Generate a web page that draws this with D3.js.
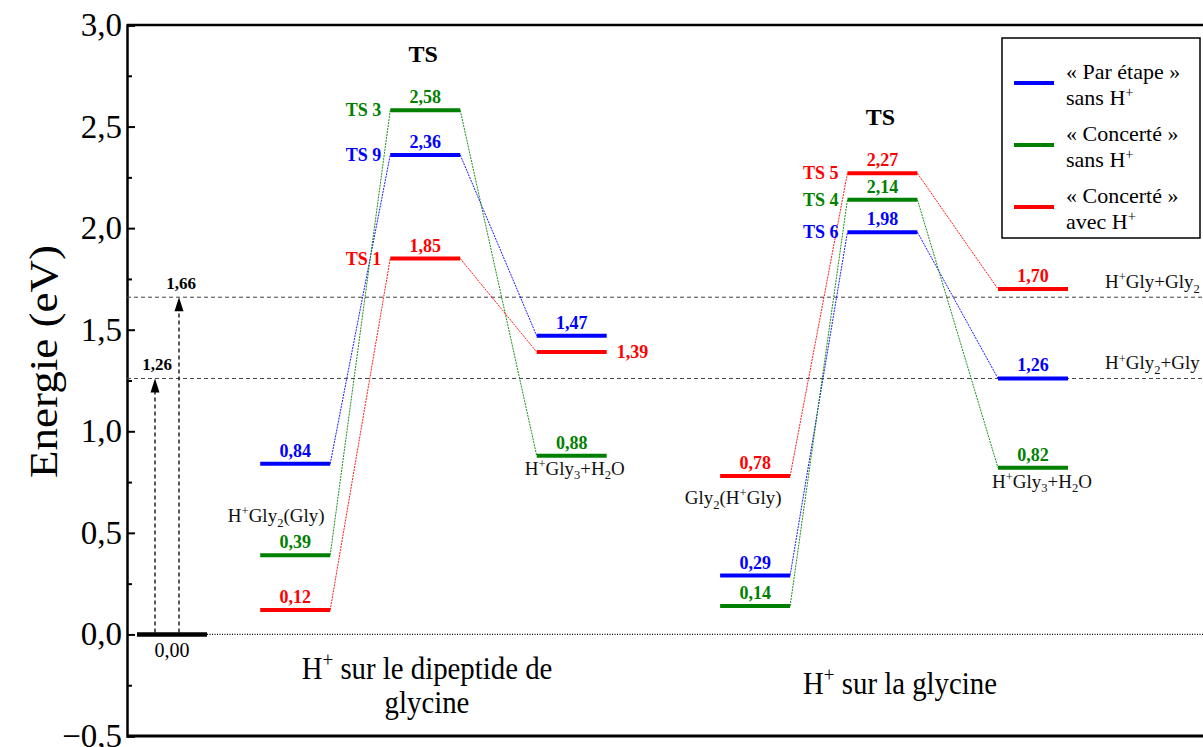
<!DOCTYPE html>
<html>
<head>
<meta charset="utf-8">
<script src="https://cdn.jsdelivr.net/npm/d3@7"></script>
<style>
  body { margin: 0; background: #fff; }
  svg { display: block; }
  text { font-family: "Liberation Serif", "Times New Roman", serif; }
</style>
</head>
<body>
<svg id="chart" width="1203" height="747"></svg>
<script>
// ---- Energies (eV) for each pathway: [reactant complex, transition state, products]
const dipeptideStepwise   = [0.84, 2.36, 1.47];   // « Par étape » sans H+
const dipeptideConcerted  = [0.39, 2.58, 0.88];   // « Concerté » sans H+
const dipeptideConcertedH = [0.12, 1.85, 1.39];   // « Concerté » avec H+
const glycineStepwise     = [0.29, 1.98, 1.26];
const glycineConcerted    = [0.14, 2.14, 0.82];
const glycineConcertedH   = [0.78, 2.27, 1.70];

const dipeptideTSNames = ["TS 9", "TS 3", "TS 1"];
const glycineTSNames   = ["TS 6", "TS 4", "TS 5"];

// reaction-coordinate position of each stage
const groundCoord     = 0;
const dipeptideCoords = [0.9, 1.85, 2.92];
const glycineCoords   = [4.26, 5.19, 6.29];

const groundEnergy = 0.00;
const dissociationEnergies = [1.26, 1.66];
const dissociationNames = ["H^{+}Gly_{2}+Gly", "H^{+}Gly+Gly_{2}"];

const yTicks = [-0.5, 0.0, 0.5, 1.0, 1.5, 2.0, 2.5, 3.0];
const yMinorTicks = [-0.25, 0.25, 0.75, 1.25, 1.75, 2.25, 2.75];

const seriesNames = [
  ["« Par étape »", "sans H^{+}"],
  ["« Concerté »", "sans H^{+}"],
  ["« Concerté »", "avec H^{+}"]
];
const seriesColors = ["#0000ff", "#008000", "#ff0000"];

const categoryNames = [["H^{+} sur le dipeptide de", "glycine"], ["H^{+} sur la glycine"]];

// ---- Layout
const W = 1203, H = 747;
const plot = { left: 127, right: 1203, top: 25, bottom: 736 };
const svg = d3.select("#chart");

const y = d3.scaleLinear().domain([-0.5, 3.0]).range([plot.bottom, plot.top]);
const x = d3.scaleLinear().domain([0, 6.29]).range([172, 1033]);
const halfBar = 35;

const comma = v => d3.format(".2f")(v).replace(".", ",");
const comma1 = v => d3.format(".1f")(v).replace(".", ",");

// text with ^{sup} and _{sub} segments
function rich(sel, s, size) {
  const parts = s.split(/(\^\{[^}]*\}|_\{[^}]*\})/).filter(p => p.length);
  let shift = 0;
  parts.forEach(p => {
    let t = p, target = 0, small = false;
    if (p.startsWith("^{")) { t = p.slice(2, -1); target = -0.36 * size; small = true; }
    else if (p.startsWith("_{")) { t = p.slice(2, -1); target = 0.24 * size; small = true; }
    sel.append("tspan")
      .attr("dy", target - shift)
      .attr("font-size", small ? size * 0.66 : size)
      .text(t);
    shift = target;
  });
  return sel;
}

// ---- Axis frame
const frame = svg.append("g");
frame.append("line").attr("x1", plot.left).attr("x2", plot.right)
  .attr("y1", plot.top).attr("y2", plot.top).attr("stroke", "#000").attr("stroke-width", 2.5);
frame.append("line").attr("x1", plot.left).attr("x2", plot.right)
  .attr("y1", plot.bottom).attr("y2", plot.bottom).attr("stroke", "#000").attr("stroke-width", 3);

const yAxis = d3.axisLeft(y).tickValues(yTicks).tickSize(-8).tickPadding(5).tickFormat(comma1);
const gy = svg.append("g").attr("transform", `translate(${plot.left},0)`).call(yAxis);
gy.select(".domain").attr("stroke-width", 2.5);
gy.selectAll(".tick line").attr("stroke-width", 2);
gy.selectAll(".tick text").attr("font-size", 33).attr("fill", "#000")
  .attr("font-family", "Liberation Serif");

const yMinor = d3.axisLeft(y).tickValues(yMinorTicks).tickSize(-5).tickFormat("");
const gyMinor = svg.append("g").attr("transform", `translate(${plot.left},0)`).call(yMinor);
gyMinor.select(".domain").remove();
gyMinor.selectAll(".tick line").attr("stroke-width", 2);

svg.append("text")
  .attr("transform", `translate(57,${(245 + 478) / 2}) rotate(-90)`)
  .attr("text-anchor", "middle")
  .attr("font-size", 40)
  .attr("textLength", 233).attr("lengthAdjust", "spacingAndGlyphs")
  .text("Energie (eV)");

// ---- Reference levels
dissociationEnergies.forEach((e, i) => {
  svg.append("line")
    .attr("x1", plot.left).attr("x2", plot.right)
    .attr("y1", y(e)).attr("y2", y(e))
    .attr("stroke", "#444").attr("stroke-width", 1).attr("stroke-dasharray", "4,3");
  rich(svg.append("text").attr("x", 1105).attr("y", y(e) - 9).attr("font-size", 19).attr("fill", "#111"),
    dissociationNames[i], 19);
});

// zero line
svg.append("line")
  .attr("x1", x(groundCoord) + halfBar).attr("x2", plot.right)
  .attr("y1", y(groundEnergy)).attr("y2", y(groundEnergy))
  .attr("stroke", "#000").attr("stroke-width", 1.2).attr("stroke-dasharray", "1,1.5");

// ground state
svg.append("line")
  .attr("x1", x(groundCoord) - halfBar).attr("x2", x(groundCoord) + halfBar)
  .attr("y1", y(groundEnergy)).attr("y2", y(groundEnergy))
  .attr("stroke", "#000").attr("stroke-width", 4.5);
svg.append("text").attr("x", x(groundCoord)).attr("y", y(groundEnergy) + 23)
  .attr("text-anchor", "middle").attr("font-size", 20).text(comma(groundEnergy));

// dissociation arrows from the ground state
const arrowOffsets = [-17, 7];
dissociationEnergies.forEach((e, i) => {
  const ax = x(groundCoord) + arrowOffsets[i];
  svg.append("line")
    .attr("x1", ax).attr("x2", ax)
    .attr("y1", y(groundEnergy) - 2).attr("y2", y(e) + 12)
    .attr("stroke", "#000").attr("stroke-width", 1.3).attr("stroke-dasharray", "4,3");
  svg.append("path")
    .attr("d", `M${ax},${y(e)} L${ax - 4.5},${y(e) + 14} L${ax + 4.5},${y(e) + 14} Z`)
    .attr("fill", "#000");
  svg.append("text").attr("x", ax + 2).attr("y", y(e) - 8)
    .attr("text-anchor", "middle").attr("font-size", 17).attr("font-weight", "bold")
    .text(comma(e));
});

// ---- Pathways
const clusters = [
  { coords: dipeptideCoords, series: [dipeptideStepwise, dipeptideConcerted, dipeptideConcertedH], ts: dipeptideTSNames, cluster: 0 },
  { coords: glycineCoords,   series: [glycineStepwise, glycineConcerted, glycineConcertedH],       ts: glycineTSNames,   cluster: 1 }
];

clusters.forEach(c => {
  const g = svg.append("g");
  c.series.forEach((vals, si) => {
    const col = seriesColors[si];
    // connectors
    for (let k = 0; k < vals.length - 1; k++) {
      g.append("line")
        .attr("x1", x(c.coords[k]) + halfBar).attr("y1", y(vals[k]))
        .attr("x2", x(c.coords[k + 1]) - halfBar).attr("y2", y(vals[k + 1]))
        .attr("stroke", col).attr("stroke-width", 0.9).attr("stroke-dasharray", "2,1");
    }
  });
  c.series.forEach((vals, si) => {
    const col = seriesColors[si];
    vals.forEach((v, k) => {
      g.append("line")
        .attr("x1", x(c.coords[k]) - halfBar).attr("x2", x(c.coords[k]) + halfBar)
        .attr("y1", y(v)).attr("y2", y(v))
        .attr("stroke", col).attr("stroke-width", 4);
      const right = (c.cluster === 0 && si === 2 && k === 2);
      g.append("text")
        .attr("x", right ? x(c.coords[k]) + halfBar + 10 : x(c.coords[k]))
        .attr("y", right ? y(v) + 6 : y(v) - 7)
        .attr("text-anchor", right ? "start" : "middle")
        .attr("font-size", 18).attr("font-weight", "bold").attr("fill", col)
        .text(comma(v));
    });
    // transition-state name
    g.append("text")
      .attr("x", x(c.coords[1]) - halfBar - 9)
      .attr("y", y(vals[1]) + 6)
      .attr("text-anchor", "end")
      .attr("font-size", 18).attr("font-weight", "bold").attr("fill", col)
      .text(c.ts[si]);
  });
  const tsMax = d3.max(c.series, s => s[1]);
  g.append("text").attr("x", x(c.coords[1]) - 2).attr("y", y(tsMax) - 48)
    .attr("text-anchor", "middle").attr("font-size", 24).attr("font-weight", "bold").text("TS");
});

// species names
const sp = (tx, ty, s) => rich(svg.append("text").attr("x", tx).attr("y", ty)
  .attr("text-anchor", "middle").attr("font-size", 19).attr("fill", "#111"), s, 19);
sp(x(dipeptideCoords[0]) - 19, y(dipeptideConcerted[0]) - 33, "H^{+}Gly_{2}(Gly)");
sp(x(dipeptideCoords[2]) + 3, y(dipeptideConcerted[2]) + 19, "H^{+}Gly_{3}+H_{2}O");
sp(x(glycineCoords[0]) - 22, y(glycineConcertedH[0]) + 28, "Gly_{2}(H^{+}Gly)");
sp(x(glycineCoords[2]) + 9, y(glycineConcerted[2]) + 20, "H^{+}Gly_{3}+H_{2}O");

// category captions
const cat = (cx, cy, s) => rich(svg.append("text")
  .attr("transform", `translate(${cx},${cy}) scale(0.9,1)`)
  .attr("text-anchor", "middle").attr("font-size", 32), s, 32);
cat(427, 679, categoryNames[0][0]);
cat(427, 713, categoryNames[0][1]);
cat(900, 694, categoryNames[1][0]);

// ---- Legend
const leg = svg.append("g");
leg.append("rect").attr("x", 1002).attr("y", 38).attr("width", 198).attr("height", 200)
  .attr("fill", "#fff").attr("stroke", "#000").attr("stroke-width", 1.5);
const legRowY = [83, 145, 207];
seriesNames.forEach((nm, i) => {
  leg.append("line").attr("x1", 1014).attr("x2", 1054)
    .attr("y1", legRowY[i]).attr("y2", legRowY[i])
    .attr("stroke", seriesColors[i]).attr("stroke-width", 4);
  leg.append("text").attr("x", 1066).attr("y", legRowY[i] - 4).attr("font-size", 22).text(nm[0]);
  rich(leg.append("text").attr("x", 1066).attr("y", legRowY[i] + 22).attr("font-size", 22), nm[1], 22);
});
</script>
</body>
</html>
